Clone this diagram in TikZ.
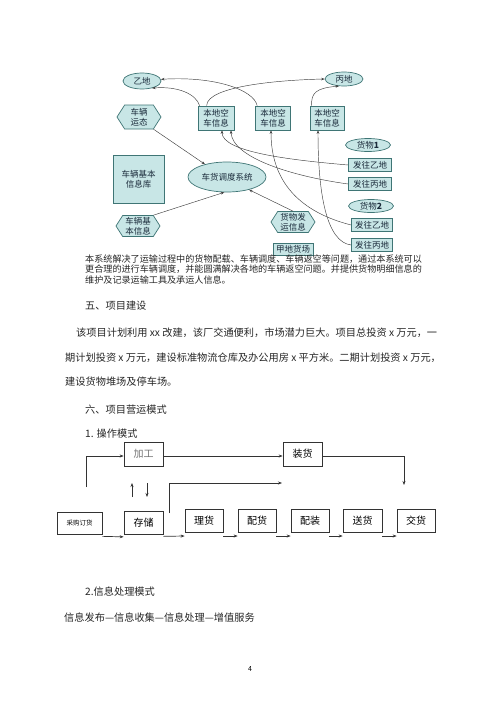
\documentclass[tikz,border=0pt]{standalone}
\usepackage{fontspec}
\setmainfont{Noto Sans CJK SC}
\usetikzlibrary{shapes.geometric,shapes.symbols,arrows.meta}
\definecolor{cfill}{HTML}{C8E6E6}
\definecolor{cline}{HTML}{3F7575}
\definecolor{ctext}{HTML}{1A2A3A}
\begin{document}
\begin{tikzpicture}[x=1pt,y=-1pt,
  cbox/.style={draw=cline,fill=cfill,line width=0.7pt,inner sep=1pt,text=ctext,font=\fontsize{8.5}{10}\selectfont,align=center},
  cell/.style={ellipse,draw=cline,fill=cfill,line width=0.7pt,inner sep=0pt,text=ctext,font=\fontsize{8.5}{10}\selectfont},
  chex/.style={signal,signal to=east and west,signal pointer angle=115,draw=cline,fill=cfill,line width=0.7pt,inner sep=0pt,text=ctext,font=\fontsize{8.5}{10}\selectfont,align=center},
  carr/.style={-{Stealth[length=3.5pt,width=2.6pt]},line width=0.45pt,draw=black!75},
  obox/.style={draw=black!80,line width=0.7pt,fill=white,font=\fontsize{10}{12}\selectfont},
  oarr/.style={-{Stealth[length=4pt,width=3pt]},line width=0.7pt,draw=black!80},
  body/.style={anchor=base west,inner sep=0pt,font=\fontsize{10.2}{12}\selectfont,text=black!85},
  captxt/.style={anchor=base west,inner sep=0pt,font=\fontsize{9.1}{11}\selectfont,text=black!85}
]
\useasboundingbox (0,0) rectangle (500,707);
\fill[white] (0,0) rectangle (500,707);
% ---------- top diagram ----------
\node[cell,minimum width=38pt,minimum height=16pt] (yi) at (142,81) {乙地};
\node[cell,minimum width=38pt,minimum height=14pt] (bing) at (344,79) {丙地};
\node[chex,minimum width=44pt,minimum height=24pt] (hex1) at (139,117) {车辆\\运态};
\node[cbox,minimum width=36pt,minimum height=24pt] (b1) at (216,118) {本地空\\车信息};
\node[cbox,minimum width=35pt,minimum height=24pt] (b2) at (273,118) {本地空\\车信息};
\node[cbox,minimum width=34pt,minimum height=24pt] (b3) at (327,118) {本地空\\车信息};
\node[cbox,minimum width=51pt,minimum height=48pt] (lib) at (138.5,179) {车辆基本\\信息库};
\node[cell,minimum width=78pt,minimum height=30pt] (sys) at (227,177) {车货调度系统};
\node[chex,minimum width=44pt,minimum height=21pt] (hex2) at (138,226) {车辆基\\本信息};
\node[chex,minimum width=44pt,minimum height=21pt] (hex3) at (293,222) {货物发\\运信息};
\node[cbox,minimum width=40pt,minimum height=12pt] (jd) at (293,249) {甲地货场};
\node[cell,minimum width=45pt,minimum height=13pt] (g1) at (368,145) {货物\textbf{1}};
\node[cbox,minimum width=43pt,minimum height=13pt] (f1) at (370,165) {发往乙地};
\node[cbox,minimum width=43pt,minimum height=13pt] (f2) at (370,184) {发往丙地};
\node[cell,minimum width=45pt,minimum height=13pt] (g2) at (371,206) {货物\textbf{2}};
\node[cbox,minimum width=41pt,minimum height=13pt] (f3) at (372,225) {发往乙地};
\node[cbox,minimum width=41pt,minimum height=13pt] (f4) at (372,245) {发往丙地};
% connectors
\draw[carr] ([xshift=2pt]b1.north west) .. controls (196,94) and (178,86) .. (yi.-35);
\draw[carr] ([xshift=2pt]b2.north west) .. controls (254,90) and (215,76) .. (yi.5);
\draw[carr] ([xshift=9pt]b1.north west) .. controls (207,86) and (280,80) .. (bing.west);
\draw[carr] ([xshift=2pt]b3.north west) .. controls (311,93) and (316,88) .. (bing.-125);
\draw[carr] (hex1.-40) -- (sys.150);
\draw[carr] (hex2.north east) -- (sys.-100);
\draw[carr] (hex3.north) -- (sys.-30);
\draw[carr] (f1.west) .. controls (290,160) and (222,152) .. ([xshift=6pt]b1.south);
\draw[carr] (f2.west) .. controls (290,176) and (232,157) .. ([xshift=15pt]b1.south);
\draw[carr] (f3.west) .. controls (300,212) and (271,182) .. ([xshift=-2pt]b2.south);
\draw[carr] (f4.west) .. controls (326,242) and (318,192) .. ([xshift=-9pt]b3.south);
% caption
\node[captxt] (c1) at (85,262) {本系统解决了运输过程中的货物配载、车辆调度、车辆返空等问题，通过本系统可以};
\node[captxt] (c2) at (85,272) {更合理的进行车辆调度，并能圆满解决各地的车辆返空问题。并提供货物明细信息的};
\node[captxt] (c3) at (85,283) {维护及记录运输工具及承运人信息。};
% ---------- body text ----------
\node[body] (h5) at (85,309) {五、项目建设};
\node[body] (p1) at (76,336) {该项目计划利用 xx 改建，该厂交通便利，市场潜力巨大。项目总投资 x 万元，一};
\node[body] (p2) at (65,361) {期计划投资 x 万元，建设标准物流仓库及办公用房 x 平方米。二期计划投资 x 万元，};
\node[body] (p3) at (65,385) {建设货物堆场及停车场。};
\node[body] (h6) at (85,413) {六、项目营运模式};
\node[body] (h61) at (85,437) {1. 操作模式};
% ---------- operation diagram ----------
\node[obox,minimum width=39pt,minimum height=24pt,text=black!55] (jg) at (143.5,454) {加工};
\node[obox,minimum width=39pt,minimum height=24pt] (zh) at (302.5,454) {装货};
\node[obox,minimum width=45pt,minimum height=22pt,font=\fontsize{6.5}{8}\selectfont] (cg) at (79.5,523) {采购订货};
\node[obox,minimum width=39pt,minimum height=23pt] (cc) at (143.5,522.5) {存储};
\node[obox,minimum width=38pt,minimum height=23pt] (lh) at (204,520.5) {理货};
\node[obox,minimum width=38pt,minimum height=23pt] (ph) at (257,520.5) {配货};
\node[obox,minimum width=38pt,minimum height=23pt] (pz) at (310,520.5) {配装};
\node[obox,minimum width=39pt,minimum height=23pt] (sh) at (362.5,520.5) {送货};
\node[obox,minimum width=38pt,minimum height=23pt] (jh) at (416,520.5) {交货};
\coordinate (s1) at (86,487);
\coordinate (e1) at (404,485);
\coordinate (u1) at (132,497);
\coordinate (u2) at (132,483);
\coordinate (d1) at (147,483);
\coordinate (d2) at (147,497);
\coordinate (k1) at (169,513);
\coordinate (k2) at (282,483);
\draw[oarr] (s1) |- ([yshift=-2pt]jg.west);
\draw[oarr] ([yshift=-2pt]jg.east) -- ([yshift=-2pt]zh.west);
\draw[oarr] ([yshift=-2pt]zh.east) -| (e1);
\draw[oarr] (u1) -- (u2);
\draw[oarr] (d1) -- (d2);
\draw[oarr] (k1) |- (k2);
\draw[oarr] ([yshift=-2pt]cg.south east) -- ([yshift=-2.5pt]cc.south west);
\draw[oarr] ([yshift=-2pt]cc.south east) -- (lh.south west |- 0,536);
\draw[oarr] (lh.south east |- 0,536) -- (ph.south west |- 0,536);
\draw[oarr] (ph.south east |- 0,536) -- (pz.south west |- 0,536);
\draw[oarr] (pz.south east |- 0,536) -- (sh.south west |- 0,536);
\draw[oarr] (sh.south east |- 0,536) -- (jh.south west |- 0,536);
% ---------- section 2 ----------
\node[body] (h62) at (85,595) {2.信息处理模式};
\node[body] (p4) at (64,621) {信息发布—信息收集—信息处理—增值服务};
\node[anchor=base,inner sep=0pt,font=\fontsize{7}{8}\selectfont] (pg) at (250,671) {4};
\end{tikzpicture}
\end{document}
